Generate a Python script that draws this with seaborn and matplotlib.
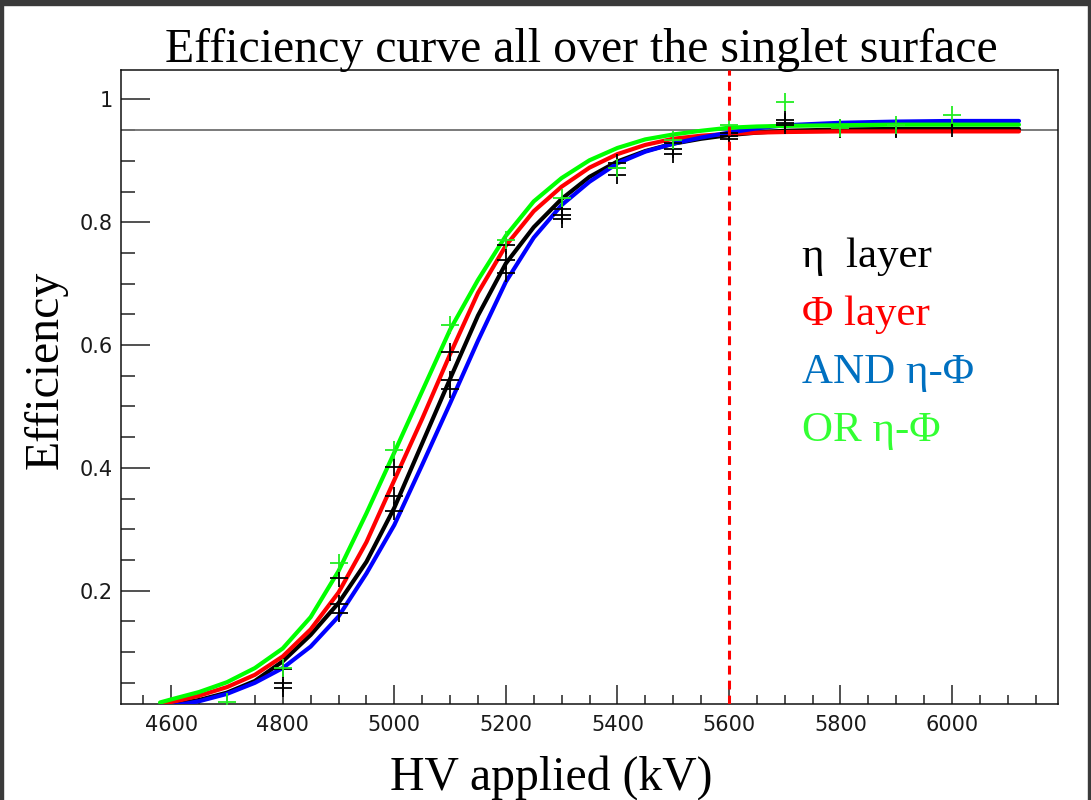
import matplotlib
matplotlib.use("Agg")
import numpy as np
import pandas as pd
import seaborn as sns
import matplotlib.pyplot as plt
from matplotlib.ticker import MultipleLocator, FuncFormatter
from matplotlib.patches import Rectangle

# ---------------- data ----------------
hv_curve = [4580, 4600, 4650, 4700, 4750, 4800, 4850, 4900, 4950, 5000, 5050,
            5100, 5150, 5200, 5250, 5300, 5350, 5400, 5450, 5500, 5550, 5600,
            5650, 5700, 5800, 5900, 6000, 6120]

eta_curve = [0.010, 0.014, 0.022, 0.034, 0.053, 0.085, 0.128, 0.180, 0.247, 0.335, 0.440,
             0.545, 0.648, 0.733, 0.792, 0.838, 0.874, 0.899, 0.916, 0.928, 0.936, 0.942,
             0.946, 0.949, 0.951, 0.952, 0.952, 0.952]
phi_curve = [0.013, 0.018, 0.029, 0.043, 0.063, 0.093, 0.137, 0.197, 0.279, 0.380, 0.480,
             0.585, 0.685, 0.762, 0.818, 0.858, 0.889, 0.911, 0.926, 0.936, 0.941, 0.944,
             0.946, 0.947, 0.948, 0.948, 0.948, 0.948]
and_curve = [0.008, 0.012, 0.020, 0.032, 0.050, 0.074, 0.109, 0.158, 0.228, 0.307, 0.405,
             0.505, 0.607, 0.703, 0.775, 0.828, 0.866, 0.896, 0.915, 0.928, 0.938, 0.946,
             0.953, 0.958, 0.962, 0.964, 0.965, 0.965]
or_curve = [0.018, 0.023, 0.035, 0.051, 0.074, 0.106, 0.157, 0.232, 0.326, 0.425, 0.525,
            0.625, 0.706, 0.778, 0.834, 0.872, 0.901, 0.921, 0.935, 0.943, 0.949, 0.954,
            0.956, 0.957, 0.958, 0.959, 0.959, 0.959]

hv_pts = [4700, 4800, 4900, 5000, 5100, 5200, 5300, 5400, 5500, 5600, 5700, 5800, 5900, 6000]
eta_pts = [np.nan, 0.072, 0.220, 0.402, 0.588, 0.763, 0.822, 0.896, 0.929, 0.945, 0.966, 0.953, 0.953, 0.954]
eta_err = [0, 0, 0, 0, 0, 0, 0, 0, 0, 0, 0.012, 0.016, 0.015, 0.006]
phi_pts = [np.nan, 0.049, 0.179, 0.355, 0.543, 0.738, 0.812, 0.889, 0.920, 0.941, 0.961, np.nan, np.nan, np.nan]
and_pts = [np.nan, 0.041, 0.163, 0.330, 0.529, 0.717, 0.806, 0.877, 0.912, 0.936, 0.958, np.nan, np.nan, np.nan]
or_pts = [0.019, 0.074, 0.245, 0.429, 0.633, 0.771, 0.839, 0.888, 0.934, 0.959, 0.996, 0.953, 0.959, 0.974]

series_names = ["eta", "phi", "and", "or"]
curve_colors = {"eta": "#000000", "phi": "#ff0000", "and": "#0000ff", "or": "#00ff00"}
legend_labels = ["\u03b7  layer", "\u03a6 layer", "AND \u03b7-\u03a6", "OR \u03b7-\u03a6"]
legend_colors = ["#000000", "#ff0000", "#0070c0", "#33ff33"]

title = "Efficiency curve all over the singlet surface"
xlabel = "HV applied (kV)"
ylabel = "Efficiency"
threshold_eff = 0.95
operating_hv = 5600

# ---------------- figure ----------------
sns.set_theme(style="ticks")
plt.rcParams["font.family"] = ["DejaVu Sans"]

W, H = 1091, 800
fig = plt.figure(figsize=(W / 100, H / 100), dpi=100)
fig.patch.set_facecolor("white")
ax = fig.add_axes([121 / W, 1 - 704 / H, (1058 - 121) / W, (704 - 70) / H])
ax.set_facecolor("white")

df_curves = pd.DataFrame({
    "HV": hv_curve * 4,
    "eff": eta_curve + phi_curve + and_curve + or_curve,
    "series": sum([[n] * len(hv_curve) for n in series_names], []),
})

ax.axhline(threshold_eff, color="#707070", lw=1.3, zorder=1)

sns.lineplot(data=df_curves, x="HV", y="eff", hue="series", hue_order=series_names,
             palette=curve_colors, estimator=None, sort=True, linewidth=3.0,
             legend=False, ax=ax, zorder=3)
for ln in ax.get_lines():
    ln.set_solid_joinstyle("round")

df_black = pd.DataFrame({
    "HV": hv_pts * 3,
    "eff": eta_pts + phi_pts + and_pts,
}).dropna()
sns.scatterplot(data=df_black, x="HV", y="eff", marker="+", color="black",
                s=150, linewidth=1.3, ax=ax, zorder=5, legend=False)
ax.errorbar(hv_pts, eta_pts, yerr=eta_err, fmt="none", ecolor="black",
            elinewidth=1.3, zorder=5)
df_green = pd.DataFrame({"HV": hv_pts, "eff": or_pts})
sns.scatterplot(data=df_green, x="HV", y="eff", marker="+", color="#22ee22",
                s=150, linewidth=1.3, ax=ax, zorder=6, legend=False)

ax.axvline(operating_hv, color="#ff0000", lw=2.2, ls=(0, (2.9, 2.0)), zorder=7)

ax.set_xlim(4510, 6190)
ax.set_ylim(0.0155, 1.048)
ax.set_xlabel("")
ax.set_ylabel("")

ax.xaxis.set_major_locator(MultipleLocator(200))
ax.xaxis.set_minor_locator(MultipleLocator(50))
ax.yaxis.set_major_locator(MultipleLocator(0.2))
ax.yaxis.set_minor_locator(MultipleLocator(0.05))
ax.yaxis.set_major_formatter(FuncFormatter(lambda v, p: f"{v:g}"))
ax.xaxis.set_major_formatter(FuncFormatter(lambda v, p: f"{v:.0f}"))

ax.tick_params(axis="x", which="major", direction="in", length=13.7, width=1.1,
               color="#222222", labelsize=15, pad=8, top=False)
ax.tick_params(axis="x", which="minor", direction="in", length=6.5, width=1.1,
               color="#222222", top=False)
ax.tick_params(axis="y", which="major", direction="in", length=20.9, width=1.1,
               color="#222222", labelsize=15, pad=6, right=False)
ax.tick_params(axis="y", which="minor", direction="in", length=10, width=1.1,
               color="#222222", right=False)
for lab in ax.get_xticklabels() + ax.get_yticklabels():
    lab.set_color("#1a1a1a")

for sp in ax.spines.values():
    sp.set_visible(True)
    sp.set_color("#111111")
    sp.set_linewidth(1.1)

serif = ["Liberation Serif", "DejaVu Serif"]
fig.text(581.5 / W, 1 - 62 / H, title, ha="center", va="baseline",
         fontsize=34.4, family=serif, color="black")
fig.text(551 / W, 1 - 790 / H, xlabel, ha="center", va="baseline",
         fontsize=34.4, family=serif, color="black")
fig.text(46 / W, 1 - 370 / H, ylabel, ha="center", va="center", rotation=90,
         fontsize=34.4, family=serif, color="black")

baselines = [267, 325, 383, 441]
for lab, col, yb in zip(legend_labels, legend_colors, baselines):
    fig.text(802 / W, 1 - yb / H, lab, ha="left", va="baseline",
             fontsize=31, family=serif, color=col)

# dark screenshot border
border = "#3a3a3a"
fig.add_artist(Rectangle((0, 0), 3 / W, 1, transform=fig.transFigure,
                         color=border, zorder=10))
fig.add_artist(Rectangle((0, 1 - 5 / H), 1, 5 / H, transform=fig.transFigure,
                         color=border, zorder=10))
fig.add_artist(Rectangle((1 - 3 / W, 0), 3 / W, 1, transform=fig.transFigure,
                         color=border, zorder=10))

fig.savefig("out.png", dpi=100)
